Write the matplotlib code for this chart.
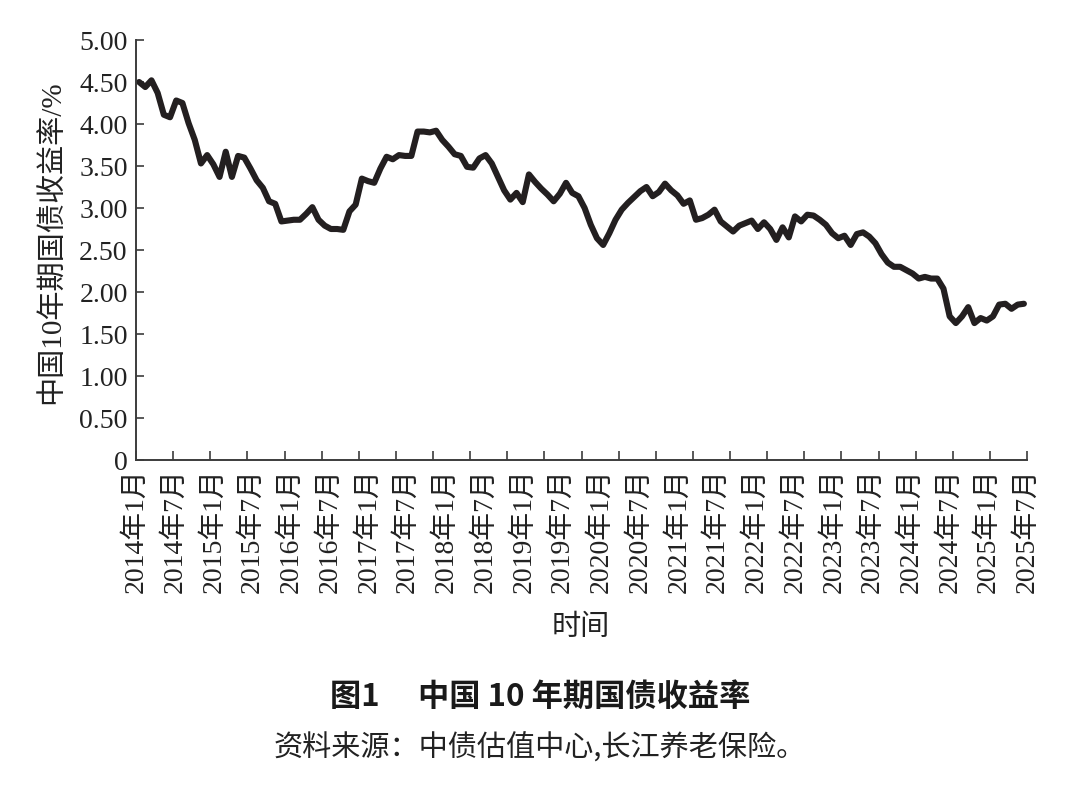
import numpy as np
import matplotlib
matplotlib.use("Agg")
import matplotlib.pyplot as plt

plt.rcParams["font.family"] = ["Liberation Serif", "Noto Sans CJK SC"]
plt.rcParams["axes.unicode_minus"] = False

# 月度收益率 2014年1月 起，单位 %
yields = [
    4.50, 4.44, 4.52, 4.37, 4.11, 4.08, 4.28, 4.25, 4.01, 3.81, 3.53, 3.63,
    3.52, 3.37, 3.67, 3.37, 3.62, 3.60, 3.47, 3.33, 3.24, 3.08, 3.05, 2.84,
    2.85, 2.86, 2.86, 2.93, 3.01, 2.86, 2.79, 2.75, 2.75, 2.74, 2.96, 3.04,
    3.35, 3.32, 3.30, 3.47, 3.61, 3.58, 3.63, 3.62, 3.62, 3.91, 3.91, 3.90,
    3.92, 3.81, 3.73, 3.64, 3.62, 3.49, 3.48, 3.59, 3.63, 3.53, 3.37, 3.21,
    3.10, 3.18, 3.07, 3.40, 3.31, 3.23, 3.16, 3.08, 3.17, 3.30, 3.18, 3.14,
    3.00, 2.80, 2.64, 2.56, 2.70, 2.86, 2.98, 3.06, 3.13, 3.20, 3.25, 3.14,
    3.19, 3.29, 3.21, 3.15, 3.05, 3.09, 2.86, 2.88, 2.92, 2.98, 2.84, 2.78,
    2.72, 2.79, 2.82, 2.85, 2.75, 2.83, 2.75, 2.62, 2.77, 2.65, 2.90, 2.84,
    2.92, 2.91, 2.86, 2.80, 2.70, 2.64, 2.67, 2.56, 2.69, 2.71, 2.66, 2.58,
    2.45, 2.35, 2.30, 2.30, 2.26, 2.22, 2.16, 2.18, 2.16, 2.16, 2.04, 1.71,
    1.63, 1.71, 1.82, 1.63, 1.69, 1.66, 1.71, 1.85, 1.86, 1.80, 1.85, 1.86,
]

tick_labels = [
    "2014年1月", "2014年7月", "2015年1月", "2015年7月", "2016年1月", "2016年7月",
    "2017年1月", "2017年7月", "2018年1月", "2018年7月", "2019年1月", "2019年7月",
    "2020年1月", "2020年7月", "2021年1月", "2021年7月", "2022年1月", "2022年7月",
    "2023年1月", "2023年7月", "2024年1月", "2024年7月", "2025年1月", "2025年7月",
]

y_ticks = [0, 0.5, 1.0, 1.5, 2.0, 2.5, 3.0, 3.5, 4.0, 4.5, 5.0]

W, H = 1080, 792
INK = "#231f20"
AXC = "#3c3c3c"

fig = plt.figure(figsize=(W / 100, H / 100), dpi=100)
ax = fig.add_axes([136 / W, 1 - 460 / H, 891 / W, 420 / H])

n = len(yields)
x = np.arange(n) + 0.5
ax.plot(x, yields, color=INK, lw=4.4, solid_joinstyle="round", solid_capstyle="round")

ax.set_xlim(0, n)
ax.set_ylim(0, 5)

for s in ("top", "right"):
    ax.spines[s].set_visible(False)
for s in ("left", "bottom"):
    ax.spines[s].set_color(AXC)
    ax.spines[s].set_linewidth(1.4)

# 刻度线：每 6 个月一个；标签均匀铺满整个横轴
ax.xaxis.remove_overlapping_locs = False
ax.set_xticks(np.arange(0, n + 1, 6))
ax.set_xticklabels([])
ax.tick_params(axis="x", which="major", direction="in", length=6.5, width=1.2, color=AXC)
ax.set_xticks(np.linspace(0, n, len(tick_labels)), minor=True)
ax.set_xticklabels(tick_labels, minor=True, rotation=90, fontsize=20, color="#222222")
ax.tick_params(axis="x", which="minor", length=0, pad=6)

ax.set_yticks(y_ticks)
ax.set_yticklabels(["0" if v == 0 else f"{v:.2f}" for v in y_ticks],
                   fontsize=20, color="#222222")
ax.tick_params(axis="y", direction="in", length=6, width=1.2, color=AXC, pad=6)

fig.text(52 / W, 1 - 242 / H, "中国10年期国债收益率/%", rotation=90,
         ha="center", va="center", fontsize=21, color="#222222")
fig.text(581 / W, 1 - 628 / H, "时间", ha="center", va="center",
         fontsize=21, color="#222222")

fig.text(540 / W, 1 - 697 / H, "图1\u3000 中国 10 年期国债收益率", ha="center", va="center",
         fontsize=22.5, fontweight="bold", family=["Noto Sans CJK SC"], color="#1a1a1a")
fig.text(540 / W, 1 - 748 / H, "资料来源：中债估值中心,长江养老保险。", ha="center", va="center",
         fontsize=21, family=["Noto Sans CJK SC"], color="#222222")

fig.savefig("out.png", dpi=100, facecolor="white")
